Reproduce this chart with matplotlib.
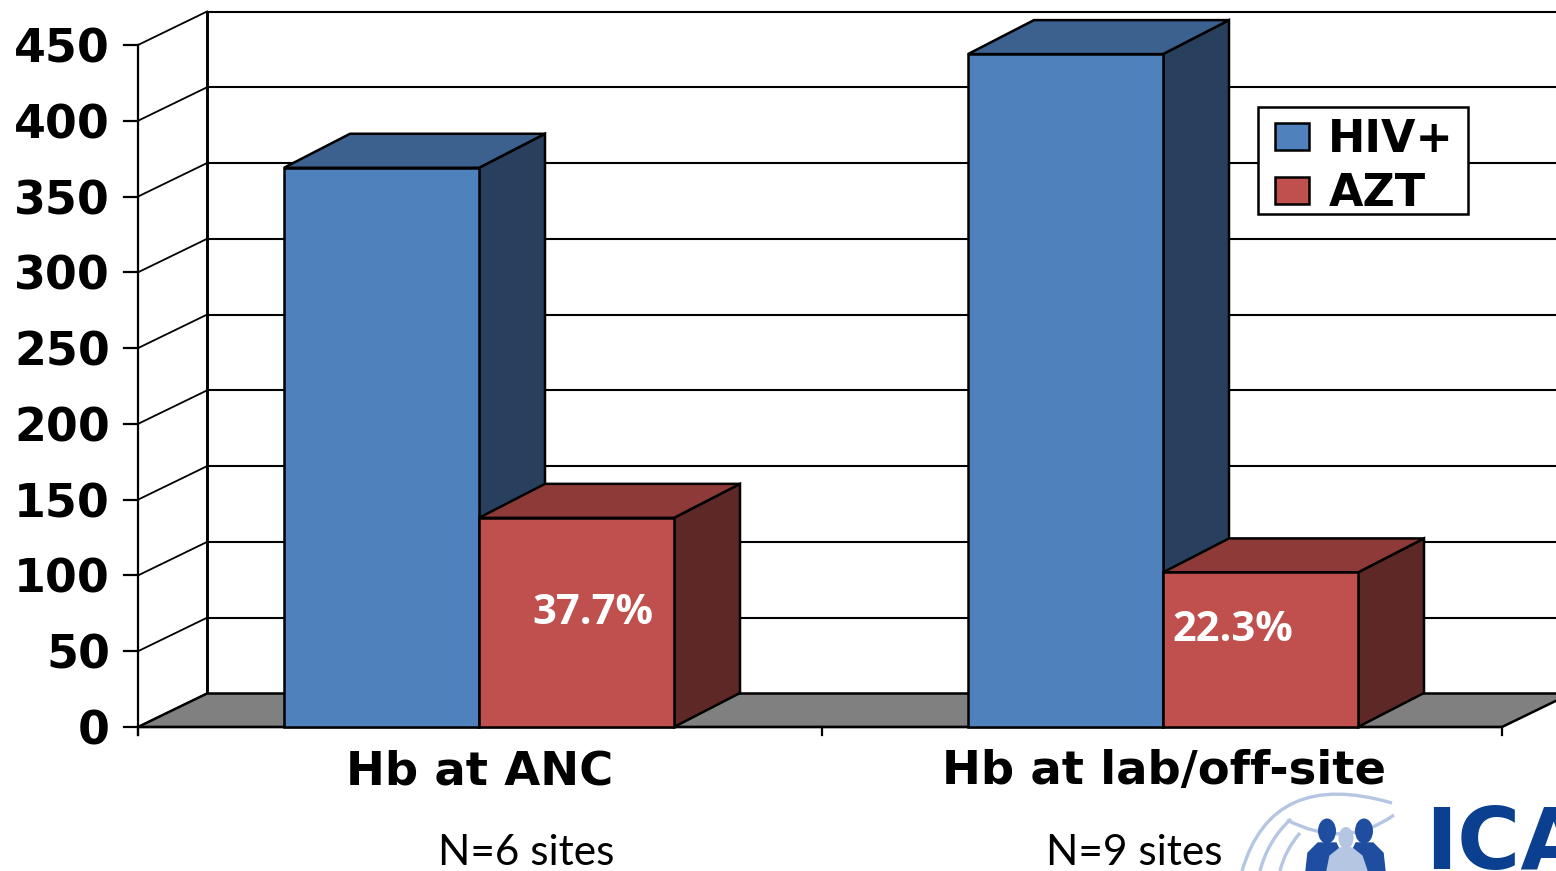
#!/usr/bin/python3


import matplotlib
matplotlib.use("Agg")
from matplotlib import pyplot as plt
from matplotlib.patches import Ellipse, PathPatch, Patch, Polygon, Rectangle
from matplotlib.path import Path

categories = ["Hb at ANC", "Hb at lab/off-site"]
site_counts = ["N=6 sites", "N=9 sites"]
hiv_values = [369, 444]
azt_values = [138, 102]
azt_percent = ["37.7%", "22.3%"]
y_ticks = [0, 50, 100, 150, 200, 250, 300, 350, 400, 450]

WIDTH, HEIGHT = 1556, 871
PX_X0, PX_CAT = 138, 684  # pixel of category 0 and pixels per category
PX_Y0, PX_UNIT = 727, 682 / 450  # pixel of value 0 and pixels per value unit
BAR_W = 195 / PX_CAT
BAR_SHIFT = -1 / PX_CAT
DEPTH_X = 66 / PX_CAT
DEPTH_Y = 34 / PX_UNIT
WALL_X = 69 / PX_CAT
WALL_Y = 33.5 / PX_UNIT
X_END = 1364 / PX_CAT  # the floor stops a little short of two full categories

BLUE = ("#4F81BD", "#3C618F", "#283F5E")  # front, top, side
RED = ("#C0504D", "#8E3A38", "#5E2826")
LW = 1.8


def px_x(px):
    return (px - PX_X0) / PX_CAT


def box_3d(ax, x, value, colors, z):
    """Draw one bar with its side and top faces."""
    front, top, side = colors
    ax.add_patch(Polygon([(x + BAR_W, 0), (x + BAR_W + DEPTH_X, DEPTH_Y),
                          (x + BAR_W + DEPTH_X, value + DEPTH_Y), (x + BAR_W, value)],
                         fc=side, ec="black", lw=LW, zorder=z))
    ax.add_patch(Polygon([(x, value), (x + DEPTH_X, value + DEPTH_Y),
                          (x + BAR_W + DEPTH_X, value + DEPTH_Y), (x + BAR_W, value)],
                         fc=top, ec="black", lw=LW, zorder=z))
    ax.bar(x, value, BAR_W, align="edge", color=front, edgecolor="black", lw=LW, zorder=z + 0.5)


def draw_walls(ax):
    top = max(y_ticks)
    ax.add_patch(Polygon([(0, 0), (X_END, 0), (X_END + WALL_X, WALL_Y), (WALL_X, WALL_Y)],
                         fc="#808080", ec="black", lw=LW, zorder=1))
    for tick in y_ticks:
        ax.plot([WALL_X, 3], [tick + WALL_Y] * 2, color="black", lw=1.5, zorder=0.5)
        ax.plot([0, WALL_X], [tick, tick + WALL_Y], color="black", lw=1.3, zorder=0.5)
    ax.plot([WALL_X, WALL_X], [WALL_Y, top + WALL_Y], color="black", lw=2.1, zorder=0.5)
    ax.plot([0, 0], [-5, top], color="black", lw=1.6, zorder=2)
    ax.plot([0, X_END], [0, 0], color="black", lw=1.6, zorder=2)
    for tick in y_ticks:
        ax.plot([-14 / PX_CAT, 0], [tick, tick], color="black", lw=1.6, zorder=2)
        ax.text(-28 / PX_CAT, tick, str(tick), ha="right", va="center_baseline",
                fontsize=33, fontweight="bold", zorder=3)
    for cat in [0, 1, X_END]:
        ax.plot([cat, cat], [0, -8 / PX_UNIT], color="black", lw=1.6, zorder=2)


def draw_legend(ax):
    # frame is separate so the keys can sit further in than the box padding allows
    ax.add_patch(Rectangle((1258 / WIDTH, 1 - 214 / HEIGHT), 210 / WIDTH, 107 / HEIGHT,
                           transform=ax.transAxes, fc="white", ec="black", lw=LW, zorder=29))
    handles = [Patch(fc=BLUE[0], ec="black", lw=LW, label="HIV+"),
               Patch(fc=RED[0], ec="black", lw=LW, label="AZT")]
    legend = ax.legend(handles=handles, loc="upper left",
                       bbox_to_anchor=(1275 / WIDTH, 1 - 118 / HEIGHT), borderaxespad=0,
                       prop={"size": 32, "weight": "bold"}, frameon=False,
                       handlelength=0.77, handleheight=0.55, handletextpad=0.43,
                       labelspacing=0.25, borderpad=0)
    legend.set_zorder(30)


def draw_logo(fig):
    # overlay in pixel coordinates, the logo is decoration and not data
    ax = fig.add_axes([0, 0, 1, 1], zorder=5)
    ax.set_xlim(0, WIDTH)
    ax.set_ylim(HEIGHT, 0)
    ax.axis("off")
    light = "#B4C6E2"
    dark = "#1F4EA1"
    arcs = [[(1242, 871), (1272, 768), (1392, 803)],
            [(1287, 820), (1345, 850), (1394, 815)],
            [(1260, 871), (1268, 840), (1291, 819)],
            [(1280, 871), (1285, 850), (1300, 833)]]
    for pts in arcs:
        ax.add_patch(PathPatch(Path(pts, [Path.MOVETO, Path.CURVE3, Path.CURVE3]),
                               fc="none", ec=light, lw=2.4))
    ax.add_patch(Polygon([(1306, 871), (1308, 853), (1318, 843), (1336, 843), (1343, 858), (1343, 871)],
                         fc=dark, ec=dark))
    ax.add_patch(Polygon([(1385, 871), (1383, 853), (1373, 843), (1356, 843), (1349, 858), (1349, 871)],
                         fc=dark, ec=dark))
    ax.add_patch(Polygon([(1327, 871), (1330, 856), (1340, 848), (1352, 848), (1362, 856), (1367, 871)],
                         fc=light, ec=light))
    ax.add_patch(Ellipse((1327, 831), 18, 25, fc=dark, ec="none"))
    ax.add_patch(Ellipse((1364, 831), 18, 25, fc=dark, ec="none"))
    ax.add_patch(Ellipse((1346, 838), 15, 22, fc=light, ec="none"))
    ax.text(1425, 869, "ICAP", color="#0B3F8F", fontsize=62, fontweight="bold",
            family="Liberation Sans Narrow", ha="left", va="baseline", clip_on=True)


def main():
    fig = plt.figure(figsize=(WIDTH / 100, HEIGHT / 100), dpi=100)
    ax = fig.add_axes([0, 0, 1, 1])
    ax.set_xlim(px_x(0), px_x(WIDTH))
    ax.set_ylim((PX_Y0 - HEIGHT) / PX_UNIT, PX_Y0 / PX_UNIT)
    ax.axis("off")
    draw_walls(ax)

    for i, name in enumerate(categories):
        center = i + 0.5 + BAR_SHIFT
        box_3d(ax, center - BAR_W, hiv_values[i], BLUE, 3 + i * 3)
        box_3d(ax, center, azt_values[i], RED, 4 + i * 3)
        ax.text(i + 0.5, -29.5, name, ha="center", va="center", fontsize=33.5, fontweight="bold")

    ax.text(px_x(593), 75, azt_percent[0], color="white", ha="center", va="center",
            fontsize=30, fontweight="bold", family="Open Sans", zorder=20)
    ax.text(px_x(1233), 64, azt_percent[1], color="white", ha="center", va="center",
            fontsize=30, fontweight="bold", family="Open Sans", zorder=20)
    ax.text(px_x(526), -83, site_counts[0], ha="center", va="center",
            fontsize=30.5, family="Lato")
    ax.text(px_x(1134), -83, site_counts[1], ha="center", va="center",
            fontsize=30.5, family="Lato")

    draw_legend(ax)
    draw_logo(fig)
    fig.savefig("out.png", dpi=100)


if __name__ == "__main__":
    main()
